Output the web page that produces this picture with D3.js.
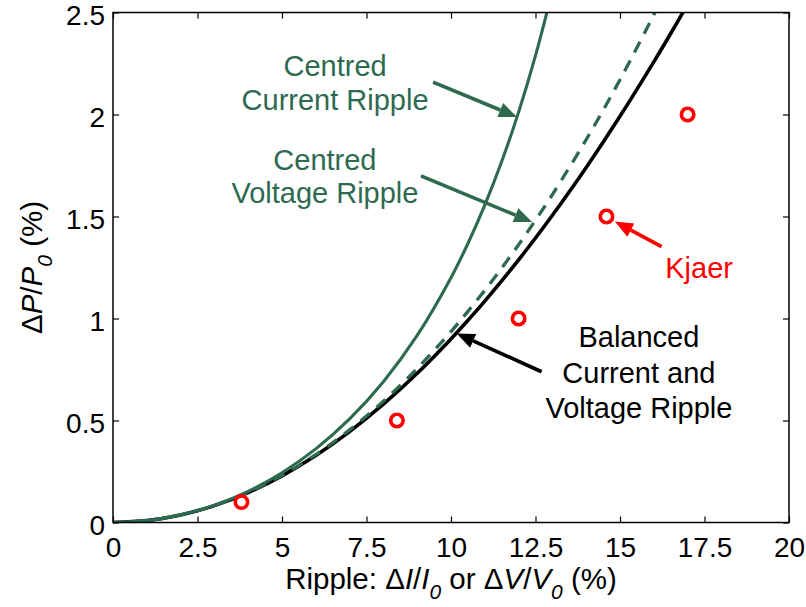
<!DOCTYPE html>
<html>
<head>
<meta charset="utf-8">
<script src="https://cdn.jsdelivr.net/npm/d3@7"></script>
<style>
  html, body { margin: 0; padding: 0; background: #fff; }
  svg { display: block; font-family: "Liberation Sans", Arial, Helvetica, sans-serif; }
</style>
</head>
<body>
<svg id="chart" width="806" height="607"></svg>
<script>
// Ripple (%) sample points for the model curves
const rippleX = [0, 1, 2, 3, 4, 5, 6, 7, 8, 9, 10, 10.5, 11, 11.5, 12, 12.5, 13, 14, 15, 16, 16.5, 17];

// Balanced current and voltage ripple (black, solid)
const balancedY = [0, 0.0093, 0.0370, 0.0829, 0.1469, 0.2288, 0.3283, 0.4454, 0.5798, 0.7314, 0.9000,
  0.9906, 1.0854, 1.1843, 1.2874, 1.3945, 1.5058, 1.7405, 1.9913, 2.2579, 2.3971, 2.5403];

// Centred voltage ripple (green, dashed)
const centredVoltageY = [0, 0.0093, 0.0371, 0.0832, 0.1478, 0.2311, 0.3330, 0.4541, 0.5946, 0.7551, 0.9360,
  1.0350, 1.1379, 1.2470, 1.3616, 1.4820, 1.6076, 1.8770, 2.1705, 2.4891, 2.6582, 2.8300];

// Centred current ripple (green, solid)
const centredCurrentX = [0, 1, 2, 3, 4, 5, 6, 7, 8, 9, 10, 10.5, 11, 11.5, 12, 12.5, 13];
const centredCurrentY = [0, 0.0093, 0.0374, 0.0848, 0.1530, 0.2441, 0.3608, 0.5076, 0.6902, 0.9171, 1.2000,
  1.3675, 1.5561, 1.7692, 2.0116, 2.2883, 2.6074];

// Kjaer reference points
const kjaerX = [3.8, 8.4, 12, 14.6, 17];
const kjaerY = [0.1, 0.5, 1.0, 1.5, 2.0];

const xTicks = [0, 2.5, 5, 7.5, 10, 12.5, 15, 17.5, 20];
const yTicks = [0, 0.5, 1, 1.5, 2, 2.5];

const GREEN = "#2d6a4f";
const RED = "#ff0000";

const svg = d3.select("#chart");
const m = { left: 113, right: 17, top: 12.5, bottom: 84.5 };
const W = 806, H = 607;

const x = d3.scaleLinear().domain([0, 20]).range([m.left, W - m.right]);
const y = d3.scaleLinear().domain([0, 2.5]).range([H - m.bottom, m.top]);

svg.append("defs").append("clipPath").attr("id", "plotClip")
  .append("rect")
  .attr("x", x(0)).attr("y", y(2.5))
  .attr("width", x(20) - x(0)).attr("height", y(0) - y(2.5));

// Axes with inward ticks
const tickFont = 28;
const gx = svg.append("g").attr("transform", `translate(0,${y(0)})`)
  .call(d3.axisBottom(x).tickValues(xTicks).tickFormat(d => String(d))
    .tickSizeInner(-6).tickSizeOuter(0).tickPadding(15));
const gy = svg.append("g").attr("transform", `translate(${x(0)},0)`)
  .call(d3.axisLeft(y).tickValues(yTicks).tickFormat(d => String(d))
    .tickSizeInner(-6).tickSizeOuter(0).tickPadding(8));
const gt = svg.append("g").attr("transform", `translate(0,${y(2.5)})`)
  .call(d3.axisTop(x).tickValues(xTicks).tickFormat("").tickSizeInner(-6).tickSizeOuter(0));
const gr = svg.append("g").attr("transform", `translate(${x(20)},0)`)
  .call(d3.axisRight(y).tickValues(yTicks).tickFormat("").tickSizeInner(-6).tickSizeOuter(0));

[gx, gy, gt, gr].forEach(g => {
  g.select(".domain").remove();
  g.selectAll(".tick line").attr("stroke", "#000").attr("stroke-width", 1.2);
  g.selectAll(".tick text").attr("fill", "#000").style("font-size", tickFont + "px")
    .style("font-family", '"Liberation Sans", Arial, Helvetica, sans-serif');
});
// y labels sit slightly below their ticks
gy.selectAll(".tick text").attr("dy", "0.42em");

// Curves
const plot = svg.append("g").attr("clip-path", "url(#plotClip)");
const line = d3.line().x(d => x(d[0])).y(d => y(d[1])).curve(d3.curveCatmullRom.alpha(0.5));

plot.append("path")
  .datum(rippleX.map((v, i) => [v, balancedY[i]]))
  .attr("d", line).attr("fill", "none").attr("stroke", "#000").attr("stroke-width", 3.6);

plot.append("path")
  .datum(rippleX.map((v, i) => [v, centredVoltageY[i]]))
  .attr("d", line).attr("fill", "none").attr("stroke", GREEN).attr("stroke-width", 3.3)
  .attr("stroke-dasharray", "12,9");

plot.append("path")
  .datum(centredCurrentX.map((v, i) => [v, centredCurrentY[i]]))
  .attr("d", line).attr("fill", "none").attr("stroke", GREEN).attr("stroke-width", 3.1);

// Kjaer markers
svg.append("g").selectAll("circle")
  .data(kjaerX.map((v, i) => [v, kjaerY[i]]))
  .join("circle")
  .attr("cx", d => x(d[0])).attr("cy", d => y(d[1])).attr("r", 6.2)
  .attr("fill", "none").attr("stroke", RED).attr("stroke-width", 3.6);

// Plot box
svg.append("rect")
  .attr("x", x(0)).attr("y", y(2.5))
  .attr("width", x(20) - x(0)).attr("height", y(0) - y(2.5))
  .attr("fill", "none").attr("stroke", "#000").attr("stroke-width", 1.5);

// Annotation arrows: tail and tip in data units
function arrow(from, to, color) {
  const x1 = x(from[0]), y1 = y(from[1]), x2 = x(to[0]), y2 = y(to[1]);
  const ang = Math.atan2(y2 - y1, x2 - x1);
  const len = 18, half = 7.5;
  const bx = x2 - len * Math.cos(ang), by = y2 - len * Math.sin(ang);
  svg.append("line")
    .attr("x1", x1).attr("y1", y1).attr("x2", bx).attr("y2", by)
    .attr("stroke", color).attr("stroke-width", 3.6);
  const px = -Math.sin(ang) * half, py = Math.cos(ang) * half;
  svg.append("polygon")
    .attr("points", [[x2, y2], [bx + px, by + py], [bx - px, by - py]].map(p => p.join(",")).join(" "))
    .attr("fill", color);
}

arrow([9.47, 2.159], [11.95, 1.988], GREEN);
arrow([9.11, 1.699], [12.40, 1.473], GREEN);
arrow([12.68, 0.739], [10.17, 0.927], "#000");
arrow([16.23, 1.352], [14.85, 1.475], RED);

// Annotation text
const annFont = 29;
function label(lines, cx, baselines, color) {
  lines.forEach((t, i) => {
    svg.append("text")
      .attr("x", x(cx)).attr("y", y(baselines[i]))
      .attr("text-anchor", "middle")
      .attr("fill", color)
      .style("font-size", annFont + "px")
      .text(t);
  });
}
label(["Centred", "Current Ripple"], 6.57, [2.188, 2.022], GREEN);
label(["Centred", "Voltage Ripple"], 6.27, [1.728, 1.566], GREEN);
label(["Balanced", "Current and", "Voltage Ripple"], 15.56, [0.862, 0.682, 0.511], "#000");
label(["Kjaer"], 17.34, [1.199], RED);

// Axis titles
const titleFont = 29.5, subFont = 21;
const xt = svg.append("text")
  .attr("x", (x(0) + x(20)) / 2).attr("y", 589)
  .attr("text-anchor", "middle")
  .style("font-size", titleFont + "px").attr("fill", "#000");
xt.append("tspan").text("Ripple: \u0394");
xt.append("tspan").style("font-style", "italic").text("I");
xt.append("tspan").text("/");
xt.append("tspan").style("font-style", "italic").text("I");
xt.append("tspan").style("font-style", "italic").style("font-size", subFont + "px").attr("dy", 10).text("0");
xt.append("tspan").attr("dy", -10).text(" or \u0394");
xt.append("tspan").style("font-style", "italic").text("V");
xt.append("tspan").text("/");
xt.append("tspan").style("font-style", "italic").text("V");
xt.append("tspan").style("font-style", "italic").style("font-size", subFont + "px").attr("dy", 10).text("0");
xt.append("tspan").attr("dy", -10).text(" (%)");

const yt = svg.append("text")
  .attr("transform", `translate(42,${(y(0) + y(2.5)) / 2}) rotate(-90)`)
  .attr("text-anchor", "middle")
  .style("font-size", titleFont + "px").attr("fill", "#000");
yt.append("tspan").text("\u0394");
yt.append("tspan").style("font-style", "italic").text("P");
yt.append("tspan").text("/");
yt.append("tspan").style("font-style", "italic").text("P");
yt.append("tspan").style("font-style", "italic").style("font-size", subFont + "px").attr("dy", 10).text("0");
yt.append("tspan").attr("dy", -10).text(" (%)");
</script>
</body>
</html>
